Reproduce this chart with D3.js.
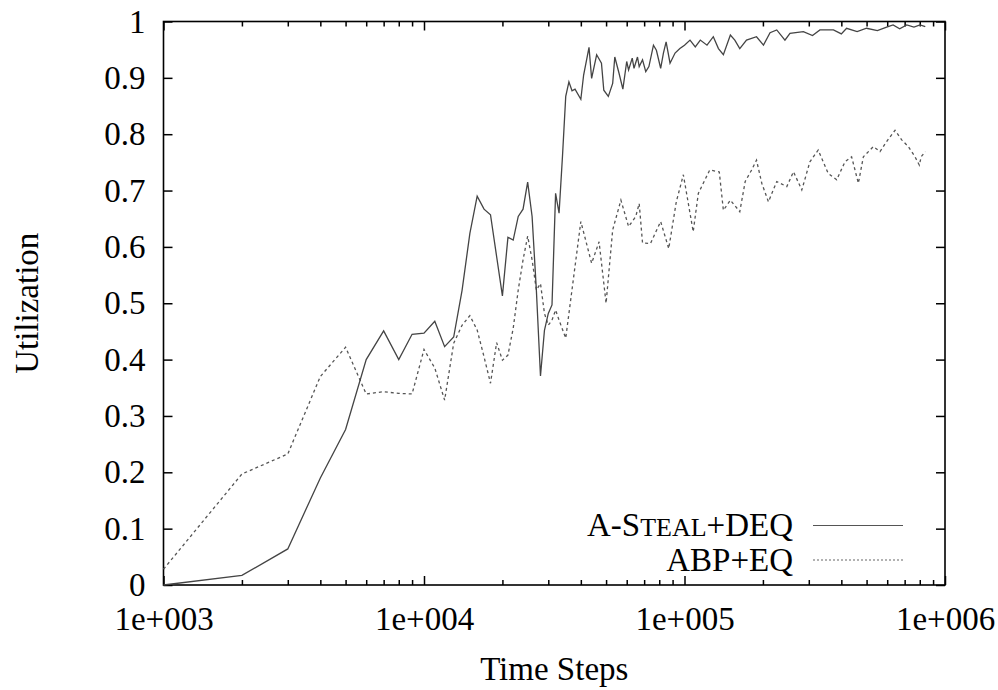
<!DOCTYPE html>
<html>
<head>
<meta charset="utf-8">
<script src="https://cdn.jsdelivr.net/npm/d3@7"></script>
<style>
  body { margin: 0; background: #fff; }
  text { font-family: "Liberation Serif", "Times New Roman", serif; fill: #000; }
</style>
</head>
<body>
<div id="chart"></div>
<script>
// A-Steal+DEQ (solid)
var stealSteps = [1000, 2000, 3000, 4000, 5000, 6000, 7000, 8000, 9000, 10000,
  11000, 12000, 13000, 14000, 15000, 16000, 17000, 18000, 19000, 20000,
  21000, 22000, 23000, 24000, 25000, 26000, 27000, 28000, 29000, 30000,
  31000, 32000, 33000, 34000, 35000, 36000, 37000, 38000, 40000, 41000,
  43000, 44000, 46000, 48000, 49000, 51000, 53000, 54000, 56000, 58000,
  60000, 61000, 63000, 64000, 66000, 67000, 69000, 71000, 73000, 76000,
  78000, 81000, 83000, 85000, 88000, 92000, 96000, 100000, 105000, 110000,
  115000, 122000, 129000, 135000, 141000, 150000, 156000, 163000, 173000, 189000,
  201000, 213000, 226000, 243000, 254000, 286000, 310000, 331000, 373000, 400000,
  419000, 460000, 500000, 550000, 597000, 632000, 670000, 713000, 760000, 802000,
  840000];
var stealUtil = [0.0, 0.017, 0.064, 0.19, 0.276, 0.40, 0.451, 0.40, 0.445, 0.447,
  0.468, 0.423, 0.44, 0.523, 0.624, 0.69, 0.667, 0.657, 0.583, 0.513,
  0.617, 0.612, 0.654, 0.667, 0.715, 0.654, 0.523, 0.371, 0.452, 0.482,
  0.497, 0.695, 0.66, 0.76, 0.867, 0.893, 0.877, 0.88, 0.862, 0.905,
  0.954, 0.899, 0.941, 0.926, 0.878, 0.867, 0.89, 0.937, 0.909, 0.88,
  0.929, 0.914, 0.935, 0.917, 0.937, 0.92, 0.932, 0.911, 0.92, 0.958,
  0.949, 0.917, 0.944, 0.964, 0.926, 0.944, 0.952, 0.958, 0.967, 0.955,
  0.967, 0.958, 0.973, 0.952, 0.941, 0.976, 0.967, 0.952, 0.967, 0.973,
  0.958, 0.98, 0.985, 0.967, 0.979, 0.982, 0.975, 0.985, 0.985, 0.978,
  0.988, 0.982, 0.988, 0.984, 0.99, 0.994, 0.987, 0.994, 0.99, 0.994,
  0.991];

// ABP+EQ (dashed)
var abpSteps = [1000, 2000, 3000, 4000, 5000, 6000, 7000, 8000, 9000, 10000,
  11000, 12000, 13000, 14000, 15000, 16000, 17000, 18000, 19000, 20000,
  21000, 22000, 23000, 24000, 25000, 26000, 27000, 28000, 29000, 30000,
  31000, 32000, 33000, 35000, 40000, 44000, 47000, 50000, 53000, 57000,
  61000, 65000, 67000, 69000, 74000, 81000, 87000, 93000, 99000, 108000,
  113000, 125000, 136000, 141000, 150000, 163000, 171000, 181000, 189000, 198000,
  210000, 226000, 247000, 262000, 282000, 303000, 326000, 356000, 384000, 413000,
  438000, 465000, 486000, 531000, 563000, 597000, 643000, 682000, 723000, 767000,
  797000, 810000, 840000];
var abpUtil = [0.028, 0.197, 0.2325, 0.37, 0.422, 0.339, 0.343, 0.340, 0.339, 0.418,
  0.385, 0.328, 0.429, 0.461, 0.478, 0.4525, 0.405, 0.358, 0.43, 0.399,
  0.408, 0.4555, 0.5235, 0.577, 0.619, 0.577, 0.5235, 0.535, 0.482, 0.461,
  0.47, 0.488, 0.47, 0.438, 0.645, 0.571, 0.609, 0.5, 0.63, 0.683,
  0.636, 0.654, 0.677, 0.607, 0.606, 0.645, 0.597, 0.68, 0.728, 0.627,
  0.695, 0.7365, 0.733, 0.665, 0.683, 0.6625, 0.716, 0.7365, 0.754, 0.713,
  0.68, 0.716, 0.707, 0.7335, 0.701, 0.751, 0.772, 0.7306, 0.719, 0.751,
  0.76, 0.713, 0.76, 0.778, 0.769, 0.787, 0.807, 0.79, 0.778, 0.76,
  0.745, 0.76, 0.769];

var xTicks = [1e3, 1e4, 1e5, 1e6];
var xTickLabels = ["1e+003", "1e+004", "1e+005", "1e+006"];
var yTicks = [0, 0.1, 0.2, 0.3, 0.4, 0.5, 0.6, 0.7, 0.8, 0.9, 1];
var yTickLabels = ["0", "0.1", "0.2", "0.3", "0.4", "0.5", "0.6", "0.7", "0.8", "0.9", "1"];
var seriesNames = ["A-Steal+DEQ", "ABP+EQ"];

var w = 998, h = 690;
var pLeft = 163.5, pRight = 945, pTop = 21.5, pBottom = 585;

var svg = d3.select("#chart").append("svg")
    .attr("width", w)
    .attr("height", h);

var x = d3.scaleLog().domain([1e3, 1e6]).range([pLeft, pRight]);
var y = d3.scaleLinear().domain([0, 1]).range([pBottom, pTop]);

var xMinor = x.ticks().filter(function(d) { return xTicks.indexOf(d) < 0; });

function styleAxis(g) {
    g.select(".domain").remove();
    g.selectAll(".tick line").attr("stroke", "#000").attr("stroke-width", 1.5);
    g.selectAll("text").style("font-size", "33px").attr("fill", "#000");
}

// bottom axis
svg.append("g").attr("transform", "translate(0," + pBottom + ")")
    .call(d3.axisBottom(x).tickValues(xTicks).tickSize(-9).tickPadding(22)
        .tickFormat(function(d, i) { return xTickLabels[i]; }))
    .call(styleAxis);
svg.append("g").attr("transform", "translate(0," + pBottom + ")")
    .call(d3.axisBottom(x).tickValues(xMinor).tickSize(-5).tickFormat(""))
    .call(styleAxis);

// top axis (mirrored ticks)
svg.append("g").attr("transform", "translate(0," + pTop + ")")
    .call(d3.axisTop(x).tickValues(xTicks).tickSize(-9).tickFormat(""))
    .call(styleAxis);
svg.append("g").attr("transform", "translate(0," + pTop + ")")
    .call(d3.axisTop(x).tickValues(xMinor).tickSize(-5).tickFormat(""))
    .call(styleAxis);

// left axis
svg.append("g").attr("transform", "translate(" + pLeft + ",0)")
    .call(d3.axisLeft(y).tickValues(yTicks).tickSize(-9).tickPadding(18)
        .tickFormat(function(d, i) { return yTickLabels[i]; }))
    .call(styleAxis);

// right axis
svg.append("g").attr("transform", "translate(" + pRight + ",0)")
    .call(d3.axisRight(y).tickValues(yTicks).tickSize(-9).tickFormat(""))
    .call(styleAxis);

// frame
svg.append("rect")
    .attr("x", pLeft).attr("y", pTop)
    .attr("width", pRight - pLeft).attr("height", pBottom - pTop)
    .attr("fill", "none").attr("stroke", "#000").attr("stroke-width", 1.6);

var line = d3.line()
    .x(function(d) { return x(d[0]); })
    .y(function(d) { return y(d[1]); });

var stealData = stealSteps.map(function(s, i) { return [s, stealUtil[i]]; });
var abpData = abpSteps.map(function(s, i) { return [s, abpUtil[i]]; });

svg.append("path").datum(abpData)
    .attr("d", line)
    .attr("fill", "none").attr("stroke", "#555")
    .attr("stroke-width", 1.3).attr("stroke-dasharray", "3,3");

svg.append("path").datum(stealData)
    .attr("d", line)
    .attr("fill", "none").attr("stroke", "#444")
    .attr("stroke-width", 1.3);

// axis titles
svg.append("text").text("Time Steps")
    .attr("x", (pLeft + pRight) / 2).attr("y", 680)
    .attr("text-anchor", "middle").style("font-size", "33px");

svg.append("text").text("Utilization")
    .attr("transform", "translate(38," + ((pTop + pBottom) / 2) + ") rotate(-90)")
    .attr("text-anchor", "middle").style("font-size", "33px");

// legend
var leg1 = svg.append("text").attr("x", 793).attr("y", 536)
    .attr("text-anchor", "end").style("font-size", "33px");
leg1.append("tspan").text("A-S");
leg1.append("tspan").text("TEAL").style("font-size", "26px");
leg1.append("tspan").text("+DEQ");

svg.append("text").text(seriesNames[1]).attr("x", 793).attr("y", 571)
    .attr("text-anchor", "end").style("font-size", "33px");

svg.append("line").attr("x1", 813).attr("x2", 903).attr("y1", 525.5).attr("y2", 525.5)
    .attr("stroke", "#555").attr("stroke-width", 1.2);
svg.append("line").attr("x1", 813).attr("x2", 903).attr("y1", 560).attr("y2", 560)
    .attr("stroke", "#666").attr("stroke-width", 1.2).attr("stroke-dasharray", "2,2");
</script>
</body>
</html>
